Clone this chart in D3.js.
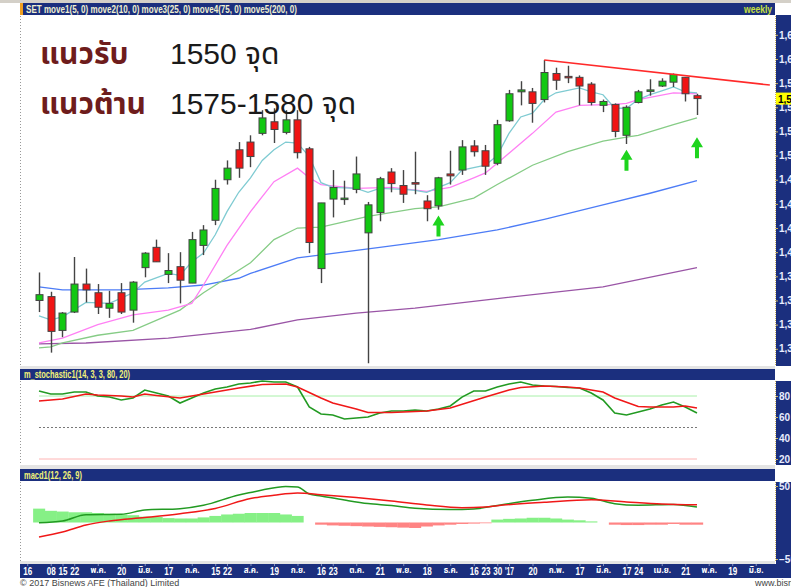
<!DOCTYPE html>
<html>
<head>
<meta charset="utf-8">
<script src="https://cdn.jsdelivr.net/npm/d3@7"></script>
<style>
  html, body { margin: 0; padding: 0; background: #fff; }
  svg { display: block; font-family: "Liberation Sans", Arial, sans-serif; }
</style>
</head>
<body>
<div id="chart"></div>
<script>
// weekly SET candles [open, high, low, close], index 0 = 1 Apr 2016
const candles = [
  [1350, 1379, 1338, 1356], [1354, 1359, 1296, 1318], [1319, 1338, 1312, 1337], [1338, 1395, 1337, 1367],
  [1367, 1383, 1348, 1361], [1358, 1367, 1336, 1343], [1342, 1360, 1332, 1347], [1358, 1368, 1336, 1338],
  [1340, 1370, 1327, 1369], [1384, 1400, 1374, 1399], [1405, 1413, 1390, 1390], [1377, 1399, 1368, 1381],
  [1385, 1400, 1347, 1371], [1368, 1421, 1368, 1413], [1407, 1428, 1397, 1423], [1433, 1475, 1428, 1466],
  [1475, 1495, 1470, 1487], [1506, 1514, 1477, 1487], [1514, 1521, 1488, 1499], [1523, 1547, 1521, 1539],
  [1535, 1549, 1513, 1527], [1524, 1547, 1522, 1537], [1537, 1547, 1497, 1503], [1507, 1509, 1399, 1410],
  [1383, 1451, 1368, 1451], [1455, 1485, 1436, 1467], [1455, 1474, 1449, 1456], [1465, 1499, 1461, 1481],
  [1420, 1452, 1285, 1449], [1441, 1478, 1432, 1476], [1483, 1487, 1462, 1471], [1469, 1485, 1451, 1460],
  [1472, 1504, 1460, 1471], [1453, 1459, 1432, 1445], [1448, 1478, 1444, 1477], [1481, 1505, 1470, 1479],
  [1485, 1516, 1480, 1509], [1510, 1516, 1499, 1504], [1505, 1511, 1480, 1489], [1492, 1537, 1490, 1532],
  [1536, 1568, 1535, 1564], [1566, 1577, 1552, 1568], [1566, 1570, 1534, 1554], [1558, 1599, 1555, 1586],
  [1585, 1591, 1568, 1578], [1582, 1593, 1575, 1581], [1581, 1583, 1552, 1572], [1574, 1576, 1552, 1555],
  [1552, 1558, 1545, 1556], [1553, 1554, 1519, 1525], [1521, 1552, 1512, 1550], [1555, 1568, 1554, 1566],
  [1567, 1579, 1562, 1568], [1572, 1580, 1571, 1577], [1576, 1585, 1571, 1584], [1581, 1581, 1556, 1564],
  [1562, 1564, 1542, 1559],
];

// moving averages: [week index, value]
const ma5 = [[0, 1334], [1, 1330], [2, 1333], [4, 1348], [6, 1347], [8, 1358], [9, 1369], [11, 1378], [12, 1376],
  [13, 1390], [14, 1399], [15, 1418], [16, 1442], [17, 1462], [18, 1477], [19, 1495], [20, 1506], [21, 1514],
  [22, 1513], [23, 1499], [24, 1472], [25, 1467], [27, 1466], [28, 1462], [29, 1466], [31, 1465], [32, 1464],
  [33, 1462], [34, 1467], [35, 1472], [36, 1485], [38, 1490], [39, 1500], [40, 1523], [41, 1540], [42, 1544],
  [43, 1558], [44, 1565], [46, 1570], [47, 1566], [48, 1563], [49, 1549], [50, 1549], [51, 1558], [52, 1563],
  [53, 1567], [54, 1571], [55, 1566], [56, 1565]];
const ma10 = [[0, 1306], [2, 1311], [5, 1325], [8, 1335], [11, 1340], [13, 1347], [14, 1366], [16, 1407],
  [18, 1442], [20, 1473], [22, 1487], [23, 1477], [24, 1470], [27, 1466], [30, 1467], [33, 1463], [35, 1467],
  [37, 1477], [38, 1482], [39, 1492], [42, 1523], [44, 1545], [46, 1552], [49, 1553], [50, 1554], [51, 1558],
  [54, 1565], [56, 1564]];
const ma25 = [[0, 1301], [1, 1302], [2, 1306], [5, 1314], [8, 1319], [12, 1340], [14, 1358], [18, 1389],
  [20, 1413], [22, 1425], [24, 1426], [28, 1437], [32, 1445], [34, 1447], [37, 1456], [39, 1470], [42, 1490],
  [45, 1504], [48, 1515], [50, 1519], [51, 1521], [54, 1532], [56, 1539]];
const ma75 = [[0, 1364], [2, 1361], [7, 1361], [11, 1363], [14, 1366], [17, 1373], [18, 1378], [22, 1394],
  [29, 1405], [34, 1413], [39, 1423], [43, 1434], [48, 1449], [52, 1461], [56, 1474]];
const ma200 = [[0, 1305], [4, 1306], [11, 1311], [18, 1320], [22, 1330], [27, 1337], [32, 1342], [39, 1352],
  [48, 1364], [56, 1384]];

const trendLine = [[43, 1599], [62.2, 1573]];
const arrowTips = [[34, 1438], [50, 1506], [56, 1519]];
const priceTicks = [1300, 1325, 1350, 1375, 1400, 1425, 1450, 1475, 1500, 1525, 1550, 1575, 1600, 1625];

// stochastic %K and %D
const stochK = [[0, 84.8], [1, 81.9], [2, 81.9], [3, 83.8], [4, 83.8], [5, 80], [6, 79], [7, 76.2], [8, 78.1],
  [9, 85.7], [10, 82.9], [11, 80], [12, 73.3], [13, 78.1], [14, 82.9], [15, 86.7], [16, 88.6], [17, 91.4],
  [18, 92.4], [19, 94.3], [20, 93.3], [21, 93.3], [22, 88.6], [23, 69.5], [24, 62.9], [25, 61.9], [26, 58.1],
  [27, 59], [28, 60], [29, 63.8], [30, 65.7], [31, 65.7], [32, 66.7], [33, 65.7], [34, 67.6], [35, 70.5],
  [36, 79], [37, 84.8], [38, 84.8], [39, 88.6], [40, 91.4], [41, 93.3], [42, 90.5], [43, 89.5], [44, 89],
  [45, 88.1], [46, 87.6], [47, 82.9], [48, 76.2], [49, 63.8], [50, 61.9], [51, 64.8], [52, 67.6], [53, 71.4],
  [54, 74.3], [55, 69.5], [56, 63.8]];
const stochD = [[0, 75.2], [2, 77.1], [4, 81.9], [5, 81], [7, 80], [8, 79], [9, 81.9], [10, 80.5], [12, 78.1],
  [14, 81.9], [17, 87.6], [19, 91], [21, 91.4], [22, 88.6], [24, 78.1], [25, 73.3], [27, 67.6], [28, 64.3],
  [30, 64.3], [33, 65.7], [35, 68.6], [38, 79], [40, 85.7], [41, 88.1], [43, 89.5], [45, 88.6], [46, 87.6],
  [48, 83.8], [49, 78.1], [51, 70], [52, 69.5], [54, 69.5], [55, 70.5], [56, 68.6]];
const stochTicks = [20, 40, 60, 80];

// MACD line, signal and histogram
const macdLine = [[0, -0.3], [2, 2.1], [4, 10.7], [7, 11.2], [9, 17.1], [12, 18.9], [14, 23.6], [17, 37.7],
  [18, 41.1], [19, 44.5], [21, 49.3], [22, 48.6], [23, 39], [24, 36.3], [26, 30.8], [28, 26], [30, 23.3],
  [32, 19.5], [35, 17.8], [37, 18.5], [39, 23.3], [42, 30.4], [45, 34.9], [47, 33.2], [49, 25.8], [51, 23.7],
  [54, 24.7], [56, 21.2]];
const macdSignal = [[0, -19.9], [2, -13], [4, -3.4], [6, 2.1], [9, 6.8], [12, 12.1], [15, 19.2], [18, 32.9],
  [20, 37.3], [22, 40.4], [24, 38.1], [27, 34.2], [30, 29.5], [33, 24], [36, 20.3], [38, 21.2], [39, 23],
  [43, 27.7], [47, 31.2], [50, 28.1], [53, 25.3], [56, 24.2]];
const macdHist = [19, 16, 15, 14, 14, 13, 12, 11, 10, 8, 7.5, 6, 5.5, 5.5, 7, 9, 11, 12, 13, 13, 13, 11, 9, 0,
  -3, -4, -4.5, -5, -5.5, -6, -6.5, -7, -7.5, -5.5, -4, -3, -2, -1.5, -1, 4, 5, 5.5, 6.5, 6.5, 5.5, 4, 3, 1.5, 0,
  -3, -3.5, -3.5, -3, -3, -2, -3, -3];
const macdTicks = [50, -50];

const dateTicks = [[-1, '16'], [1, '08'], [2, '15'], [3, '22'], [5, 'พ.ค.'], [7, '20'], [9, 'มิ.ย.'], [11, '17'],
  [13, 'ก.ค.'], [15, '15'], [16, '22'], [18, 'ส.ค.'], [20, '19'], [22, 'ก.ย.'], [24, '16'], [25, '23'],
  [27, 'ต.ค.'], [29, '21'], [31, 'พ.ย.'], [33, '18'], [35, 'ธ.ค.'], [37, '16'], [38, '23'], [39, '30'],
  [40, "'17"], [42, '20'], [44, 'ก.พ.'], [46, '17'], [48, 'มี.ค.'], [50, '17'], [51, '24'], [53, 'เม.ย.'],
  [55, '21'], [57, 'พ.ค.'], [59, '19'], [61, 'มิ.ย.']];

const COLORS = {
  navy: '#1b2f7e',
  up: '#12c812',
  down: '#f01414',
  edge: '#444',
  ma5: '#7fcbd2',
  ma10: '#ff80f4',
  ma25: '#86cc86',
  ma75: '#4d7cf6',
  ma200: '#9a55a6',
  header: '#f2f27a',
  axisText: '#e8ecff',
};
const THAI = '"Noto Sans Thai", "Noto Sans Thai UI", Tahoma, "DejaVu Sans", sans-serif';
const NARROW = '"Liberation Sans Narrow", "Arial Narrow", "Liberation Sans", sans-serif';

const width = 791;
const height = 587;
const left = 20;
const right = 775;

const svg = d3.select('#chart').append('svg').attr('width', width).attr('height', height);

const x = d3.scaleLinear().domain([-1.617, 62.64]).range([left, right]);
const yMain = d3.scaleLinear().domain([1283.2, 1644.5]).range([365, 16]);
const yStoch = d3.scaleLinear().domain([15.24, 94.29]).range([464, 381]);
const yMacd = d3.scaleLinear().domain([-50, 50]).range([559, 486]);

// frame: gray top strip, header bars, axis strips
svg.append('rect').attr('x', 0).attr('y', 0).attr('width', width).attr('height', 3).attr('fill', '#d4d0c8');
[[3, 12], [369, 11], [469, 12]].forEach(([top, h]) => {
  svg.append('rect').attr('x', left).attr('y', top).attr('width', right - left).attr('height', h).attr('fill', COLORS.navy);
});
svg.append('rect').attr('x', left).attr('y', 3).attr('width', 3).attr('height', 12).attr('fill', '#f0a020');
[[15, 351], [381, 84], [482, 96]].forEach(([top, h]) => {
  svg.append('rect').attr('x', right + 1).attr('y', top).attr('width', width - right).attr('height', h).attr('fill', COLORS.navy);
});
svg.append('rect').attr('x', left).attr('y', 564).attr('width', width - left).attr('height', 14).attr('fill', COLORS.navy);
[[366, 3], [465, 4], [561, 3]].forEach(([top, h]) => {
  svg.append('rect').attr('x', left).attr('y', top).attr('width', right - left).attr('height', h).attr('fill', '#e4e4e4');
});
[[16, 366], [381, 465], [482, 561]].forEach(([a, b]) => {
  svg.append('line').attr('x1', left + 0.5).attr('x2', left + 0.5).attr('y1', a).attr('y2', b)
    .attr('stroke', '#999').attr('stroke-dasharray', '1,2');
  svg.append('line').attr('x1', right + 0.5).attr('x2', right + 0.5).attr('y1', a).attr('y2', b)
    .attr('stroke', '#c8b060').attr('stroke-dasharray', '1,1');
});

// header texts, squeezed to the narrow width of the original font
function headerText(tx, ty, text, color, len, anchor) {
  svg.append('text').attr('x', tx).attr('y', ty).attr('fill', color).attr('font-family', NARROW)
    .attr('font-size', 11).attr('font-weight', 'bold').attr('text-anchor', anchor || 'start')
    .attr('textLength', len).attr('lengthAdjust', 'spacingAndGlyphs').text(text);
}
headerText(26, 13, 'SET move1(5, 0) move2(10, 0) move3(25, 0) move4(75, 0) move5(200, 0)', '#f0f0d0', 271);
headerText(744, 13, 'weekly', '#c8e040', 28);
headerText(24, 378, 'm_stochastic1(14, 3, 3, 80, 20)', COLORS.header, 106);
headerText(24, 479, 'macd1(12, 26, 9)', COLORS.header, 58);

// main panel: moving averages
const maLine = d3.line().x((d) => x(d[0])).y((d) => yMain(d[1]));
[[ma200, COLORS.ma200], [ma75, COLORS.ma75], [ma25, COLORS.ma25], [ma10, COLORS.ma10], [ma5, COLORS.ma5]]
  .forEach(([rows, color]) => {
    svg.append('path').attr('d', maLine(rows)).attr('fill', 'none').attr('stroke', color).attr('stroke-width', 1.3);
  });

// candles
const bodyW = 7;
const candle = svg.selectAll('.candle').data(candles).enter().append('g').attr('class', 'candle');
candle.append('line')
  .attr('x1', (d, i) => Math.round(x(i)) + 0.5).attr('x2', (d, i) => Math.round(x(i)) + 0.5)
  .attr('y1', (d) => yMain(d[1])).attr('y2', (d) => yMain(d[2]))
  .attr('stroke', COLORS.edge).attr('stroke-width', 1.4);
candle.append('rect')
  .attr('x', (d, i) => Math.round(x(i)) - bodyW / 2 + 0.5)
  .attr('y', (d) => yMain(Math.max(d[0], d[3])))
  .attr('width', bodyW)
  .attr('height', (d) => Math.max(1.5, Math.abs(yMain(d[0]) - yMain(d[3]))))
  .attr('fill', (d) => (d[3] >= d[0] ? COLORS.up : COLORS.down))
  .attr('stroke', COLORS.edge).attr('stroke-width', 1);

// resistance trend line
svg.append('path').attr('d', maLine(trendLine)).attr('fill', 'none').attr('stroke', '#ff2a2a').attr('stroke-width', 1.6);

// green up arrows
arrowTips.forEach(([i, p]) => {
  const cx = x(i);
  const ty = yMain(p);
  svg.append('path')
    .attr('d', `M${cx},${ty} L${cx + 6},${ty + 10} L${cx + 2},${ty + 10} L${cx + 2},${ty + 21} L${cx - 2},${ty + 21} L${cx - 2},${ty + 10} L${cx - 6},${ty + 10} Z`)
    .attr('fill', '#1ed41e');
});

// price axis
function styleRightAxis(g) {
  g.select('.domain').remove();
  g.selectAll('line').attr('stroke', '#c8b060');
  g.selectAll('text').attr('fill', COLORS.axisText).attr('font-size', 10).attr('font-weight', 'bold');
}
svg.append('g').attr('transform', `translate(${right + 1},0)`)
  .call(d3.axisRight(yMain).tickValues(priceTicks).tickSize(2).tickPadding(1).tickFormat(d3.format(',')))
  .call(styleRightAxis);
const lastClose = candles[candles.length - 1][3];
svg.append('rect').attr('x', right + 1).attr('y', yMain(lastClose) - 6).attr('width', width - right).attr('height', 12).attr('fill', '#ffff00');
svg.append('text').attr('x', right + 3).attr('y', yMain(lastClose) + 4).attr('font-size', 10).attr('font-weight', 'bold')
  .attr('fill', '#000').text(d3.format(',')(lastClose));

// annotations
svg.append('text').attr('x', 40).attr('y', 64).attr('font-family', THAI).attr('font-size', 30).attr('font-weight', 'bold')
  .attr('fill', '#6e1c1c').text('แนวรับ');
svg.append('text').attr('x', 170).attr('y', 64).attr('font-family', `"Liberation Sans", ${THAI}`).attr('font-size', 30)
  .attr('fill', '#1a1a1a').text('1550 จุด');
svg.append('text').attr('x', 40).attr('y', 114).attr('font-family', THAI).attr('font-size', 30).attr('font-weight', 'bold')
  .attr('fill', '#6e1c1c').text('แนวต้าน');
svg.append('text').attr('x', 170).attr('y', 114).attr('font-family', `"Liberation Sans", ${THAI}`).attr('font-size', 30)
  .attr('fill', '#1a1a1a').text('1575-1580 จุด');

// stochastic panel
const stLine = d3.line().x((d) => x(d[0])).y((d) => yStoch(d[1]));
[[80, '#a8f0a8', null], [50, '#777', '2,2'], [20, '#ffb4b4', null]].forEach(([v, color, dash]) => {
  svg.append('line').attr('x1', x(0)).attr('x2', x(56)).attr('y1', yStoch(v)).attr('y2', yStoch(v))
    .attr('stroke', color).attr('stroke-dasharray', dash);
});
svg.append('path').attr('d', stLine(stochK)).attr('fill', 'none').attr('stroke', '#229a22').attr('stroke-width', 1.6);
svg.append('path').attr('d', stLine(stochD)).attr('fill', 'none').attr('stroke', '#f01818').attr('stroke-width', 1.6);
svg.append('g').attr('transform', `translate(${right + 1},0)`)
  .call(d3.axisRight(yStoch).tickValues(stochTicks).tickSize(2).tickPadding(1))
  .call(styleRightAxis);

// macd panel
const band = x(1) - x(0);
svg.selectAll('.hist').data(macdHist).enter().append('rect').attr('class', 'hist')
  .attr('x', (d, i) => x(i) - band / 2)
  .attr('y', (d) => yMacd(Math.max(0, d)))
  .attr('width', band + 0.3)
  .attr('height', (d) => Math.abs(yMacd(d) - yMacd(0)))
  .attr('fill', (d) => (d >= 0 ? '#86f086' : '#ff8484'));
const mLine = d3.line().x((d) => x(d[0])).y((d) => yMacd(d[1])).curve(d3.curveMonotoneX);
svg.append('path').attr('d', mLine(macdLine)).attr('fill', 'none').attr('stroke', '#229a22').attr('stroke-width', 1.5);
svg.append('path').attr('d', mLine(macdSignal)).attr('fill', 'none').attr('stroke', '#f01818').attr('stroke-width', 1.5);
svg.append('g').attr('transform', `translate(${right + 1},0)`)
  .call(d3.axisRight(yMacd).tickValues(macdTicks).tickSize(2).tickPadding(1))
  .call(styleRightAxis);

// date axis
const tickLabel = (v) => dateTicks.find((d) => d[0] === v)[1];
const isNumber = (v) => /^[0-9']/.test(tickLabel(v));
svg.append('g').attr('transform', 'translate(0,564)')
  .call(d3.axisBottom(x).tickValues(dateTicks.map((d) => d[0])).tickSize(2).tickPadding(1).tickFormat(tickLabel))
  .call((g) => g.select('.domain').remove())
  .call((g) => g.selectAll('line').attr('stroke', '#8090c0'))
  .call((g) => g.selectAll('text').attr('fill', '#fff').attr('font-weight', 'bold')
    .attr('font-family', (v) => (isNumber(v) ? NARROW : THAI))
    .attr('font-size', (v) => (isNumber(v) ? 11 : 8))
    .attr('textLength', (v) => (isNumber(v) ? 9 : null))
    .attr('lengthAdjust', 'spacingAndGlyphs'));

svg.append('text').attr('x', 20).attr('y', 586).attr('font-size', 9).attr('fill', '#444')
  .text('© 2017 Bisnews AFE (Thailand) Limited');
svg.append('text').attr('x', 755).attr('y', 586).attr('font-size', 9).attr('fill', '#444').text('www.bisne');
</script>
</body>
</html>
